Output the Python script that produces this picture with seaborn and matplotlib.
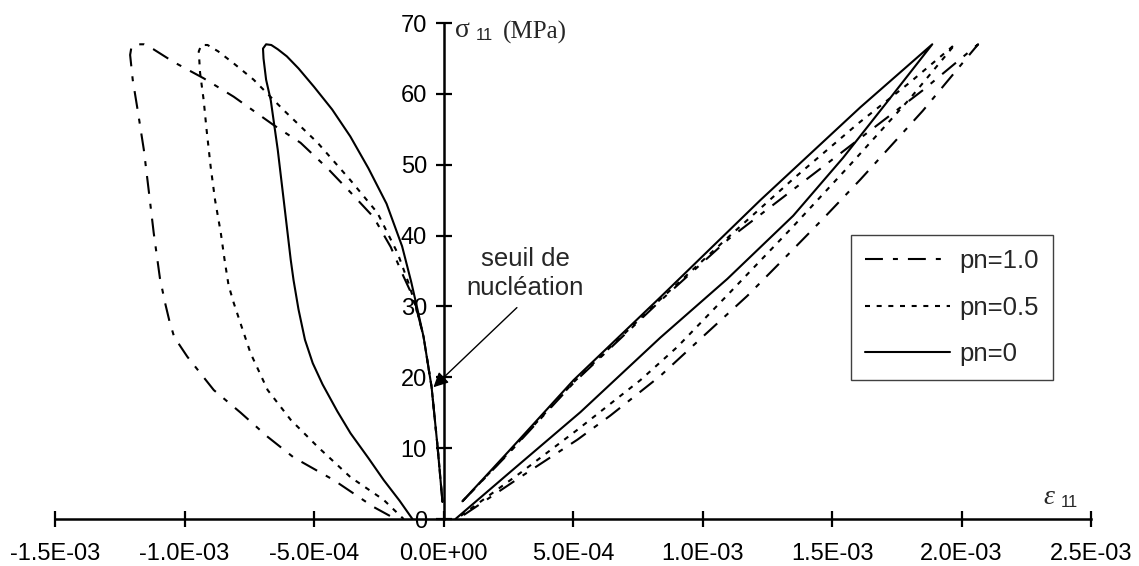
import matplotlib
matplotlib.use("Agg")
import matplotlib.pyplot as plt
from matplotlib.lines import Line2D
import seaborn as sns

# strain in units of 1E-03, stress in MPa
# pn = 0 (solid)
pn0_left_x = [-0.004, -0.023, -0.046, -0.077, -0.100, -0.125, -0.160, -0.220, -0.290, -0.360,
              -0.430, -0.500, -0.560, -0.605, -0.640, -0.665, -0.685, -0.697, -0.695, -0.685,
              -0.667, -0.640, -0.617, -0.590, -0.579, -0.560, -0.535, -0.505, -0.467, -0.410,
              -0.359, -0.290, -0.231, -0.170, -0.120]
pn0_left_y = [2.4, 10.2, 18.6, 25.7, 29.5, 33.5, 38.5, 44.5, 49.5, 54.0,
              57.8, 61.0, 63.6, 65.3, 66.3, 66.9, 67.0, 66.4, 65.0, 62.0,
              59.1, 52.1, 45.0, 36.6, 33.7, 29.6, 25.3, 22.0, 19.0, 15.2,
              12.1, 8.6, 5.5, 2.6, 0.0]
pn0_right_x = [0.073, 0.25, 0.502, 0.837, 1.223, 1.609, 1.887,
               1.72, 1.543, 1.350, 1.096, 0.837, 0.529, 0.25, 0.046]
pn0_right_y = [2.5, 9.5, 19.6, 31.3, 45.0, 58.1, 67.0,
               59.2, 51.0, 42.8, 33.9, 25.6, 15.1, 6.4, 0.0]

# pn = 0.5 (dotted)
pn05_left_x = [-0.004, -0.023, -0.046, -0.077, -0.105, -0.135, -0.177, -0.255, -0.359, -0.486,
               -0.617, -0.733, -0.810, -0.870, -0.911, -0.935, -0.945, -0.940, -0.926, -0.915,
               -0.899, -0.882, -0.860, -0.845, -0.830, -0.810, -0.780, -0.745, -0.679, -0.590,
               -0.486, -0.359, -0.231, -0.154]
pn05_left_y = [2.4, 10.2, 18.6, 25.7, 29.8, 33.3, 37.5, 43.2, 47.8, 53.1,
               57.7, 62.0, 64.3, 66.0, 66.9, 66.9, 66.0, 63.0, 59.1, 55.0,
               49.7, 45.0, 40.4, 36.5, 33.0, 30.5, 27.2, 23.4, 18.2, 14.0,
               10.2, 5.9, 2.7, 0.0]
pn05_right_x = [0.073, 0.25, 0.502, 0.837, 1.10, 1.35, 1.60, 1.80, 1.975,
                1.80, 1.570, 1.350, 1.096, 0.903, 0.760, 0.517, 0.30, 0.050]
pn05_right_y = [2.5, 9.3, 19.3, 31.0, 39.8, 48.0, 55.8, 61.6, 67.0,
                59.3, 50.0, 41.3, 31.6, 24.3, 19.6, 12.6, 6.6, 0.0]

# pn = 1.0 (dash-dot)
pn1_left_x = [-0.004, -0.023, -0.046, -0.077, -0.105, -0.130, -0.154, -0.204, -0.270, -0.359,
              -0.448, -0.552, -0.656, -0.810, -0.926, -1.042, -1.120, -1.157, -1.185, -1.205,
              -1.210, -1.200, -1.180, -1.157, -1.137, -1.119, -1.095, -1.075, -1.058, -1.040,
              -0.989, -0.887, -0.783, -0.679, -0.579, -0.424, -0.270, -0.185]
pn1_left_y = [2.4, 10.2, 18.6, 25.7, 29.8, 32.3, 34.2, 38.4, 42.6, 46.1,
              49.5, 53.1, 55.6, 59.6, 62.2, 64.5, 66.3, 67.0, 67.0, 66.6,
              65.5, 62.0, 57.5, 52.1, 46.0, 40.4, 34.0, 30.5, 27.9, 25.7,
              22.9, 18.2, 15.0, 11.6, 8.7, 5.5, 1.7, 0.0]
pn1_right_x = [0.073, 0.25, 0.502, 0.837, 1.10, 1.35, 1.60, 1.85, 2.064,
               1.85, 1.609, 1.466, 1.300, 1.173, 1.003, 0.837, 0.644, 0.517, 0.30, 0.055]
pn1_right_y = [2.5, 9.2, 19.2, 30.8, 39.5, 46.5, 53.5, 60.5, 67.0,
               57.6, 47.9, 42.4, 36.2, 31.5, 25.8, 20.2, 14.6, 11.2, 6.0, 0.0]

legend_labels = ["pn=1.0", "pn=0.5", "pn=0"]
x_ticks = [-1.5, -1.0, -0.5, 0.0, 0.5, 1.0, 1.5, 2.0, 2.5]
x_tick_labels = ["-1.5E-03", "-1.0E-03", "-5.0E-04", "0.0E+00", "5.0E-04",
                 "1.0E-03", "1.5E-03", "2.0E-03", "2.5E-03"]
y_ticks = [0, 10, 20, 30, 40, 50, 60, 70]

sns.set_style("white")
plt.rcParams['font.family'] = ['Liberation Sans', 'DejaVu Sans']

fig = plt.figure(figsize=(11.39, 5.66), dpi=100)
ax = fig.add_axes([0.0483, 0.0830, 0.9096, 0.8763])

dash_dot = (0, (8.6, 4.8, 2.4, 4.8))
dotted = (0, (2.4, 3.2))
solid = '-'

curves = [
    (pn1_left_x, pn1_left_y, dash_dot),
    (pn1_right_x, pn1_right_y, dash_dot),
    (pn05_left_x, pn05_left_y, dotted),
    (pn05_right_x, pn05_right_y, dotted),
    (pn0_left_x, pn0_left_y, solid),
    (pn0_right_x, pn0_right_y, solid),
]
for xs, ys, ls in curves:
    sns.lineplot(x=xs, y=ys, ax=ax, sort=False, estimator=None, color='black',
                 linewidth=1.5, linestyle=ls, legend=False, clip_on=False)

ax.set_xlim(-1.5, 2.5)
ax.set_ylim(0, 70)
ax.set_xticks(x_ticks)
ax.set_xticklabels(x_tick_labels)
ax.set_yticks(y_ticks)
ax.set_yticklabels([str(v) for v in y_ticks])
ax.set_xlabel('')
ax.set_ylabel('')

ax.spines['left'].set_position(('data', 0))
ax.spines['bottom'].set_position(('data', 0))
ax.spines['top'].set_visible(False)
ax.spines['right'].set_visible(False)
for s in ['left', 'bottom']:
    ax.spines[s].set_color('black')
    ax.spines[s].set_linewidth(1.8)

ax.tick_params(axis='both', direction='inout', length=12, width=1.6,
               colors='black', labelsize=17, bottom=True, left=True)
ax.tick_params(axis='x', pad=11)
ax.tick_params(axis='y', pad=6)

# axis titles
ax.text(0.045, 69.0, "σ", family='Liberation Serif', fontsize=20, ha='left', va='center')
ax.text(0.123, 68.2, "11", fontsize=12, ha='left', va='center')
ax.text(0.231, 68.7, "(MPa)", family='Liberation Serif', fontsize=18, ha='left', va='center')
ax.text(2.315, 3.1, "ε", family='Liberation Serif', style='italic', fontsize=20,
        ha='left', va='center')
ax.text(2.384, 2.4, "11", fontsize=12, ha='left', va='center')

ax.annotate("seuil de\nnucléation", xy=(-0.039, 18.6), xytext=(0.316, 34.7),
            ha='center', va='center', fontsize=18.5, linespacing=1.25,
            arrowprops=dict(arrowstyle='-|>', color='black', lw=1.0,
                            mutation_scale=22, relpos=(0.5, 0.0), shrinkA=5, shrinkB=0))

handles = [Line2D([], [], color='black', linewidth=1.5, linestyle=dash_dot),
           Line2D([], [], color='black', linewidth=1.5, linestyle=dotted),
           Line2D([], [], color='black', linewidth=1.5, linestyle=solid)]
leg = ax.legend(handles, legend_labels, loc='upper left', bbox_to_anchor=(0.768, 0.573),
                frameon=True, fancybox=False, edgecolor='#404040', framealpha=1,
                fontsize=18.5, handlelength=3.3, handletextpad=0.39, borderpad=0.55,
                labelspacing=0.88, borderaxespad=0)
leg.get_frame().set_linewidth(1.0)

fig.savefig("out.png", dpi=100)
